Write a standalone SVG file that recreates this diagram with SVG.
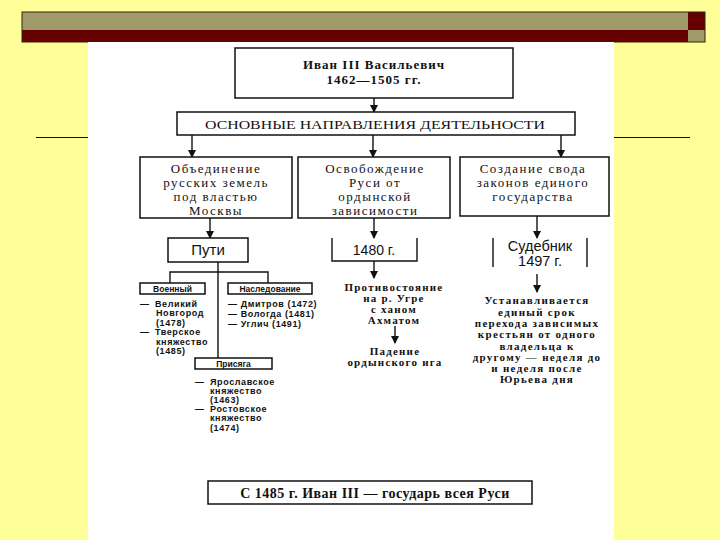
<svg xmlns="http://www.w3.org/2000/svg" width="720" height="540" viewBox="0 0 720 540">
<defs>
<marker id="ah" markerWidth="8" markerHeight="8" refX="7" refY="4" orient="auto" markerUnits="userSpaceOnUse">
<path d="M0,0 L8,4 L0,8 Z" fill="#111"/>
</marker>
<style>
.box{fill:#fff;stroke:#111;stroke-width:1.5}
.ln{fill:none;stroke:#111;stroke-width:1.4}
.arr{fill:none;stroke:#111;stroke-width:1.4;marker-end:url(#ah)}
.tb{font-family:"Liberation Serif","Times New Roman",serif;font-weight:bold;fill:#111;text-anchor:middle}
.tr{font-family:"Liberation Serif","Times New Roman",serif;fill:#111;text-anchor:middle}
.ts{font-family:"Liberation Sans",Arial,sans-serif;fill:#111;text-anchor:middle}
.tl{font-family:"Liberation Sans",Arial,sans-serif;font-weight:bold;fill:#111;font-size:9px;letter-spacing:0.6px}
.cb{font-size:13px;letter-spacing:1.5px}
.mb{font-size:11px;letter-spacing:1.2px}
.rb{font-size:11px;letter-spacing:1.3px}
</style>
</defs>
<rect x="0" y="0" width="720" height="540" fill="#FFFF99"/>
<g id="topbar">
<rect x="22" y="12" width="666" height="18" fill="#A0996A"/>
<rect x="22" y="30" width="666" height="12" fill="#660000"/>
<rect x="688" y="12" width="17" height="18" fill="#660000"/>
<rect x="688" y="30" width="17" height="12" fill="#A0996A"/>
<rect x="22" y="12" width="683" height="30" fill="none" stroke="#332200" stroke-width="1"/>
</g>
<line x1="36" y1="137.5" x2="88" y2="137.5" stroke="#111" stroke-width="1.2"/>
<line x1="614" y1="137.5" x2="690" y2="137.5" stroke="#111" stroke-width="1.2"/>
<rect x="88" y="42" width="526" height="498" fill="#fff"/>

<g id="connectors">
<line class="arr" x1="374" y1="98" x2="374" y2="112"/>
<line class="arr" x1="192" y1="135" x2="192" y2="157"/>
<line class="arr" x1="373" y1="135" x2="373" y2="157"/>
<line class="arr" x1="561" y1="135" x2="561" y2="157"/>
<line class="arr" x1="210" y1="218" x2="210" y2="238"/>
<line class="arr" x1="374" y1="218" x2="374" y2="238"/>
<line class="arr" x1="537" y1="216" x2="537" y2="238"/>
<line class="ln" x1="218" y1="262" x2="218" y2="358"/>
<polyline class="ln" points="170,283 170,272 268,272 268,283"/>
<line class="arr" x1="374" y1="261" x2="374" y2="278"/>
<line class="arr" x1="395" y1="326" x2="395" y2="343"/>
<line class="arr" x1="537" y1="274" x2="537" y2="292"/>
</g>

<g id="title">
<rect class="box" x="235" y="48" width="278" height="50"/>
<text class="tb" x="374" y="69" font-size="13" letter-spacing="1">Иван III Васильевич</text>
<text class="tb" x="374" y="84" font-size="13" letter-spacing="1">1462—1505 гг.</text>
</g>
<g id="main">
<rect class="box" x="177" y="112" width="398" height="23"/>
<text class="tr" x="375" y="129" font-size="12" textLength="340" lengthAdjust="spacingAndGlyphs">ОСНОВНЫЕ НАПРАВЛЕНИЯ ДЕЯТЕЛЬНОСТИ</text>
</g>
<g id="dir1">
<rect class="box" x="140" y="157" width="152" height="61"/>
<text class="tr cb" x="216" y="173">Объединение</text>
<text class="tr cb" x="216" y="187">русских земель</text>
<text class="tr cb" x="216" y="201">под властью</text>
<text class="tr cb" x="216" y="215">Москвы</text>
</g>
<g id="dir2">
<rect class="box" x="298" y="157" width="152" height="61"/>
<text class="tr cb" x="375" y="173">Освобождение</text>
<text class="tr cb" x="375" y="187">Руси от</text>
<text class="tr cb" x="375" y="201">ордынской</text>
<text class="tr cb" x="375" y="215">зависимости</text>
</g>
<g id="dir3">
<rect class="box" x="460" y="157" width="149" height="59"/>
<text class="tr cb" x="533" y="173">Создание свода</text>
<text class="tr cb" x="533" y="187">законов единого</text>
<text class="tr cb" x="533" y="201">государства</text>
</g>
<g id="puti">
<rect class="box" x="168" y="238" width="80" height="24"/>
<text class="ts" x="208" y="255" font-size="15">Пути</text>
</g>
<g id="voenny">
<rect class="box" x="140" y="283" width="65" height="11"/>
<text class="ts" x="172.5" y="292" font-size="8.5" font-weight="bold">Военный</text>
<text class="tl" x="140" y="307">—</text>
<text class="tl" x="155" y="307">Великий</text>
<text class="tl" x="156" y="316">Новгород</text>
<text class="tl" x="156" y="326">(1478)</text>
<text class="tl" x="140" y="335">—</text>
<text class="tl" x="155" y="335">Тверское</text>
<text class="tl" x="156" y="345">княжество</text>
<text class="tl" x="156" y="354">(1485)</text>
</g>
<g id="nasled">
<rect class="box" x="228" y="283" width="84" height="11"/>
<text class="ts" x="270" y="292" font-size="8.5" font-weight="bold">Наследование</text>
<text class="tl" x="228" y="307">— Дмитров (1472)</text>
<text class="tl" x="228" y="317">— Вологда (1481)</text>
<text class="tl" x="228" y="327">— Углич (1491)</text>
</g>
<g id="prisyaga">
<rect class="box" x="195" y="358" width="77" height="11"/>
<text class="ts" x="233.5" y="367" font-size="8.5" font-weight="bold">Присяга</text>
<text class="tl" x="195" y="385">—</text>
<text class="tl" x="210" y="385">Ярославское</text>
<text class="tl" x="210" y="394">княжество</text>
<text class="tl" x="210" y="403">(1463)</text>
<text class="tl" x="195" y="412">—</text>
<text class="tl" x="210" y="412">Ростовское</text>
<text class="tl" x="210" y="421">княжество</text>
<text class="tl" x="210" y="431">(1474)</text>
</g>
<g id="y1480">
<polyline class="ln" points="332,238 332,261 417,261 417,238"/>
<text class="ts" x="374" y="255" font-size="14">1480 г.</text>
</g>
<g id="ugra">
<text class="tb mb" x="394" y="291">Противостояние</text>
<text class="tb mb" x="394" y="302">на р. Угре</text>
<text class="tb mb" x="394" y="313">с ханом</text>
<text class="tb mb" x="394" y="324">Ахматом</text>
</g>
<g id="padenie">
<text class="tb mb" x="395" y="355">Падение</text>
<text class="tb mb" x="395" y="366">ордынского ига</text>
</g>
<g id="sudebnik">
<line class="ln" x1="493" y1="238" x2="493" y2="267"/>
<line class="ln" x1="587" y1="238" x2="587" y2="267"/>
<text class="ts" x="540" y="251" font-size="14.5">Судебник</text>
<text class="ts" x="540" y="266" font-size="14.5">1497 г.</text>
</g>
<g id="srok">
<text class="tb rb" x="537" y="304">Устанавливается</text>
<text class="tb rb" x="537" y="316">единый срок</text>
<text class="tb rb" x="537" y="327">перехода зависимых</text>
<text class="tb rb" x="537" y="338">крестьян от одного</text>
<text class="tb rb" x="537" y="350">владельца к</text>
<text class="tb rb" x="537" y="361">другому — неделя до</text>
<text class="tb rb" x="537" y="372">и неделя после</text>
<text class="tb rb" x="537" y="383">Юрьева дня</text>
</g>
<g id="gosudar">
<rect class="box" x="208" y="481" width="324" height="23"/>
<text class="tb" x="375" y="498" font-size="14" letter-spacing="0.5">С 1485 г. Иван III — государь всея Руси</text>
</g>
</svg>
